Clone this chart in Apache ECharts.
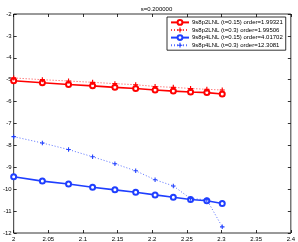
<!DOCTYPE html>
<html><head><meta charset="utf-8">
<script src="https://cdn.jsdelivr.net/npm/echarts@6/dist/echarts.min.js"></script>
<style>html,body{margin:0;padding:0;background:#fff}#c{width:298px;height:242px}</style>
</head><body><div id="c"></div>
<script>
var xValues = [2.0, 2.0414, 2.0792, 2.1139, 2.1461, 2.1761, 2.2041, 2.2304, 2.2553, 2.2788, 2.3010];
var seriesNames = ['9s8p2LNL (t=0.15) order=1.99321','9s8p2LNL (t=0.3) order=1.99506','9s8p4LNL (t=0.15) order=4.01702','9s8p4LNL (t=0.3) order=12.3081'];
var red015 = [-5.05, -5.14, -5.22, -5.28, -5.35, -5.40, -5.47, -5.52, -5.56, -5.59, -5.65];
var red03 = [-4.92, -5.00, -5.06, -5.12, -5.18, -5.23, -5.31, -5.35, -5.40, -5.44, -5.47];
var blue015 = [-9.43, -9.63, -9.76, -9.91, -10.03, -10.14, -10.26, -10.37, -10.47, -10.53, -10.65];
var blue03 = [-7.60, -7.89, -8.19, -8.52, -8.84, -9.16, -9.57, -9.85, -10.43, -10.48, -11.72];
var titleText = 's=0.200000';

function pairs(ys){return xValues.map(function(x,i){return [x, ys[i]];});}
var FONT = 'Liberation Sans';
var RED = '#ff0000', BLUE = '#1f3fff';
var plus = 'path://M-0.7,-3H0.7V-0.7H3V0.7H0.7V3H-0.7V0.7H-3V-0.7H-0.7Z';

var chart = echarts.init(document.getElementById('c'), null, {renderer:'canvas'});
function mkSeries(name, ys, color, dotted, sym, size){
  return {
    name: name, type:'line', data: pairs(ys), xAxisIndex:0, yAxisIndex:0,
    symbol: sym, symbolSize: size, showSymbol:true, animation:false,
    lineStyle:{color:color, width: dotted?1:1.6, type: dotted?[1,2]:'solid', opacity: dotted?0.75:1},
    itemStyle:{color: color, borderColor:color, borderWidth: sym==='emptyCircle'?1.5:0},
    emphasis:{disabled:true}
  };
}
var axisCommon = {
  axisLine:{show:false},
  splitLine:{show:false},
  axisTick:{inside:true, length:3, lineStyle:{color:'#000', width:0.8}},
};
chart.setOption({
  animation:false,
  backgroundColor:'#fff',
  title:{text:titleText, left:151.5, textAlign:'center', top:1,
    textStyle:{fontFamily:FONT, fontSize:6, fontWeight:'normal', color:'#000'}},
  grid:{left:12, right:7, top:14, bottom:7, show:true, borderColor:'#000', borderWidth:0.8, backgroundColor:'transparent'},
  legend:{
    orient:'vertical', left:167, top:17, width:121,
    data: seriesNames,
    itemWidth:18, itemHeight:6, itemGap:1.2,
    padding:[2,3,2,3],
    borderColor:'#000', borderWidth:0.8, backgroundColor:'#fff',
    textStyle:{fontFamily:FONT, fontSize:6, color:'#000', padding:[0,0,0,-2]},
    selectedMode:false
  },
  xAxis:[
    Object.assign({type:'value', min:2, max:2.4, interval:0.05, position:'bottom',
      axisLabel:{fontFamily:FONT, fontSize:6, color:'#000', margin:3}}, axisCommon),
    Object.assign({type:'value', min:2, max:2.4, interval:0.05, position:'top',
      axisLabel:{show:false}}, axisCommon)
  ],
  yAxis:[
    Object.assign({type:'value', min:-12, max:-2, interval:1, position:'left',
      axisLabel:{fontFamily:FONT, fontSize:6, color:'#000', margin:2}}, axisCommon),
    Object.assign({type:'value', min:-12, max:-2, interval:1, position:'right',
      axisLabel:{show:false}}, axisCommon)
  ],
  series:[
    mkSeries(seriesNames[0], red015, RED, false, 'emptyCircle', 5),
    mkSeries(seriesNames[1], red03, RED, true, plus, 5),
    mkSeries(seriesNames[2], blue015, BLUE, false, 'emptyCircle', 5),
    mkSeries(seriesNames[3], blue03, BLUE, true, plus, 4.5)
  ]
});
</script></body></html>
